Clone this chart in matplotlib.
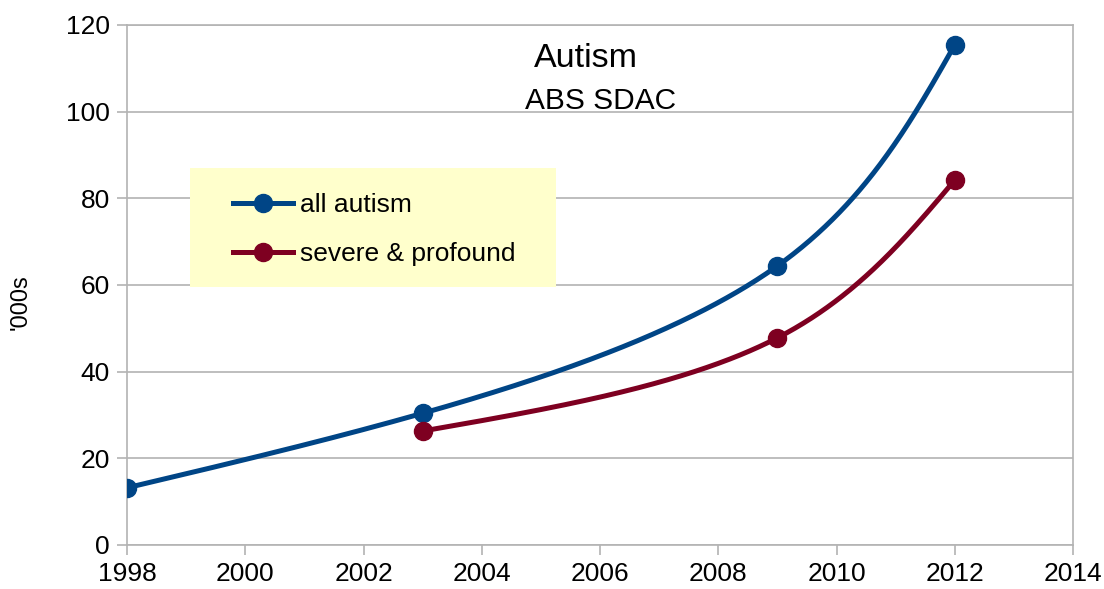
import numpy as np
import matplotlib
matplotlib.use("Agg")
import matplotlib.pyplot as plt
from matplotlib.patches import Rectangle

plt.rcParams['font.family'] = ['Liberation Sans', 'DejaVu Sans']

# Survey years and counts (thousands)
all_years = [1998, 2003, 2009, 2012]
all_autism = [13.2, 30.4, 64.4, 115.4]
severe_years = [2003, 2009, 2012]
severe_profound = [26.3, 47.8, 84.2]

series_labels = ["all autism", "severe & profound"]
x_ticks = [1998, 2000, 2002, 2004, 2006, 2008, 2010, 2012, 2014]
y_ticks = [0, 20, 40, 60, 80, 100, 120]

XMIN, XMAX = 1998, 2014
YMIN, YMAX = 0, 120

BLUE = "#004586"
RED = "#7e0021"
GRID = "#b3b3b3"


def natural_coeffs(t, v):
    """Second-derivative coefficients of a natural cubic spline v(t)."""
    k = len(t)
    h = np.diff(t)
    A = np.zeros((k, k))
    b = np.zeros(k)
    A[0, 0] = A[-1, -1] = 1.0
    for i in range(1, k - 1):
        A[i, i - 1] = h[i - 1]
        A[i, i] = 2 * (h[i - 1] + h[i])
        A[i, i + 1] = h[i]
        b[i] = 3 * ((v[i + 1] - v[i]) / h[i] - (v[i] - v[i - 1]) / h[i - 1])
    return np.linalg.solve(A, b)


def eval_spline(t, v, c, tt):
    k = len(t)
    h = np.diff(t)
    idx = np.clip(np.searchsorted(t, tt, side="right") - 1, 0, k - 2)
    dt = tt - t[idx]
    hi = h[idx]
    bb = (v[idx + 1] - v[idx]) / hi - hi * (2 * c[idx] + c[idx + 1]) / 3
    dd = (c[idx + 1] - c[idx]) / (3 * hi)
    return v[idx] + bb * dt + c[idx] * dt ** 2 + dd * dt ** 3


def smooth_curve(xs, ys, n=400):
    """Parametric natural cubic spline, parameterised by chord length
    in axis-normalised coordinates."""
    x = np.asarray(xs, float)
    y = np.asarray(ys, float)
    nx = (x - XMIN) / (XMAX - XMIN)
    ny = (y - YMIN) / (YMAX - YMIN)
    t = np.concatenate([[0.0], np.cumsum(np.hypot(np.diff(nx), np.diff(ny)))])
    tt = np.linspace(0, t[-1], n)
    sx = eval_spline(t, x, natural_coeffs(t, x), tt)
    sy = eval_spline(t, y, natural_coeffs(t, y), tt)
    return sx, sy


fig = plt.figure(figsize=(11.04, 5.89), dpi=100)
ax = fig.add_axes([127 / 1104, 1 - 545 / 589, 946 / 1104, 520 / 589])

lw = 3.6
ms = 13
for xs, ys, col, lab in [(all_years, all_autism, BLUE, series_labels[0]),
                         (severe_years, severe_profound, RED, series_labels[1])]:
    sx, sy = smooth_curve(xs, ys)
    ax.plot(sx, sy, color=col, lw=lw, solid_capstyle="round", zorder=4)
    ax.plot(xs, ys, ls="none", marker="o", ms=ms, color=col, zorder=5)
    # proxy for the legend
    ax.plot([], [], color=col, lw=lw, marker="o", ms=ms, label=lab)

ax.set_xlim(XMIN, XMAX)
ax.set_ylim(YMIN, YMAX)
ax.set_xticks(x_ticks)
ax.set_yticks(y_ticks)
ax.tick_params(axis="both", labelsize=19, colors=GRID, labelcolor="black",
               length=7.5, width=1.2)
ax.tick_params(axis="y", pad=5)
ax.tick_params(axis="x", pad=5)
ax.grid(axis="y", color=GRID, lw=1.2, zorder=0)
ax.set_axisbelow(True)
for sp in ax.spines.values():
    sp.set_color(GRID)
    sp.set_linewidth(1.2)

ax.set_ylabel("'000s", fontsize=17)
ax.yaxis.set_label_coords(-0.1004, 0.467)

# Title block
ax.text((586 - 127) / 946, (545 - 67) / 520, "Autism", fontsize=24.5,
        ha="center", va="baseline", transform=ax.transAxes)
ax.text((601 - 127) / 946, (545 - 109) / 520, "ABS SDAC", fontsize=21.5,
        ha="center", va="baseline", transform=ax.transAxes)

# Legend panel
ax.add_patch(Rectangle(((190 - 127) / 946, (545 - 287) / 520), 366 / 946, 119 / 520,
                       transform=ax.transAxes, facecolor="#ffffcc",
                       edgecolor="none", zorder=3))
leg = ax.legend(loc="upper left", bbox_to_anchor=((233 - 127) / 946, (545 - 193) / 520),
                frameon=False, fontsize=19, handlelength=2.27, handletextpad=0.27,
                borderpad=0, borderaxespad=0, labelspacing=0.95, numpoints=1)
leg.set_zorder(6)

fig.savefig("out.png", dpi=100)
